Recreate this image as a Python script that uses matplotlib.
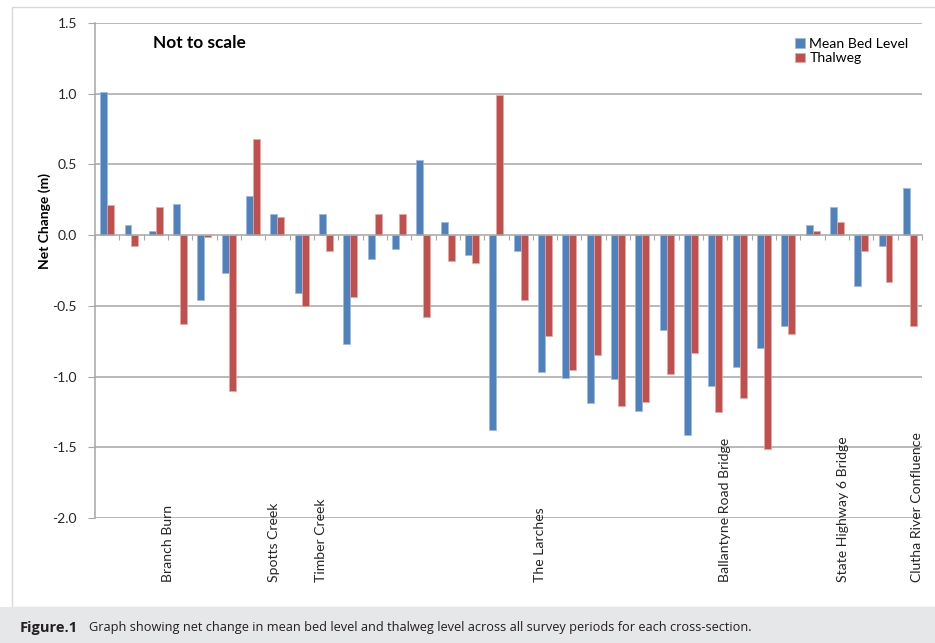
import numpy as np
import matplotlib
matplotlib.use("Agg")
import matplotlib.pyplot as plt
from matplotlib.patches import Rectangle
from matplotlib.transforms import blended_transform_factory

plt.rcParams['font.family'] = ['Lato', 'DejaVu Sans']

# net change per cross-section (m)
mean_bed = [1.01, 0.07, 0.03, 0.22, -0.46, -0.27, 0.28, 0.15, -0.41, 0.15,
            -0.77, -0.17, -0.10, 0.53, 0.09, -0.14, -1.38, -0.11, -0.97, -1.01,
            -1.19, -1.02, -1.24, -0.67, -1.41, -1.07, -0.93, -0.80, -0.64, 0.07,
            0.20, -0.36, -0.08, 0.33]
thalweg = [0.21, -0.08, 0.20, -0.63, -0.01, -1.10, 0.68, 0.13, -0.50, -0.11,
           -0.44, 0.15, 0.15, -0.58, -0.18, -0.20, 0.99, -0.46, -0.71, -0.95,
           -0.85, -1.21, -1.18, -0.98, -0.83, -1.25, -1.15, -1.51, -0.70, 0.03,
           0.09, -0.11, -0.33, -0.64]

# landmarks along the reach (position in cross-section units)
site_names = ['Branch Burn', 'Spotts Creek', 'Timber Creek', 'The Larches',
              'Ballantyne Road Bridge', 'State Highway 6 Bridge',
              'Clutha River Confluence']
site_pos = [2.5, 6.86, 8.79, 17.8, 25.4, 30.26, 33.3]

y_ticks = [-2.0, -1.5, -1.0, -0.5, 0.0, 0.5, 1.0, 1.5]

blue = '#4F81BD'
red = '#C0504D'
grid_c = '#A6A6A6'

fig = plt.figure(figsize=(9.35, 6.43), dpi=100)

# outer frame and caption strip, kept behind the axes
fig.patches.append(Rectangle((12 / 935, 36 / 643), 1.0, 1 - 43 / 643,
                             transform=fig.transFigure, facecolor='white',
                             edgecolor='#D9D9D9', lw=1, zorder=-5))
fig.patches.append(Rectangle((0, 0), 1, 36 / 643, transform=fig.transFigure,
                             facecolor='#E6E7E8', edgecolor='none', zorder=-5))

ax = fig.add_axes([95 / 935, 125 / 643, 827 / 935, 495 / 643])
ax.patch.set_alpha(0)

x = np.arange(len(mean_bed))
w = 0.286
ax.bar(x - w / 2, mean_bed, w, color=blue, edgecolor='#9DB9DE', lw=0.5,
       label='Mean Bed Level', zorder=3)
ax.bar(x + w / 2, thalweg, w, color=red, edgecolor='#E3A9A7', lw=0.5,
       label='Thalweg', zorder=3)

ax.set_xlim(-0.5, len(mean_bed) - 0.5)
ax.set_ylim(-2.0, 1.5)
ax.set_yticks(y_ticks)
ax.set_yticklabels([f'{v:.1f}' for v in y_ticks], fontsize=10, color='#262626')
for v in y_ticks:
    if v != 0:
        ax.axhline(v, color=grid_c, lw=1.1, zorder=1)

for s in ['top', 'right']:
    ax.spines[s].set_visible(False)
ax.spines['left'].set_color(grid_c)
ax.spines['left'].set_linewidth(1.1)
ax.spines['bottom'].set_position(('data', 0))
ax.spines['bottom'].set_color(grid_c)
ax.spines['bottom'].set_linewidth(1.1)
ax.spines['bottom'].set_zorder(4)

ax.tick_params(axis='y', direction='out', length=5, color=grid_c, pad=8)
ax.set_xticks(np.arange(-0.5, len(mean_bed), 1.0))
ax.tick_params(axis='x', direction='out', length=3.5, color=grid_c,
               labelbottom=False)

ax.set_ylabel('Net Change (m)', fontsize=10, fontweight='bold')
ax.yaxis.set_label_coords(-0.053, 0.60)

trans = blended_transform_factory(ax.transData, ax.transAxes)
for name, pos in zip(site_names, site_pos):
    ax.text(pos, -0.129, name, transform=trans, rotation=90, ha='center',
            va='bottom', fontsize=10.1, color='#262626', clip_on=False)

ax.text(0.070, 0.96, 'Not to scale', transform=ax.transAxes, fontsize=12.4,
        fontweight='bold', va='center', ha='left')

ax.legend(loc='upper left', bbox_to_anchor=(0.840, 0.982), frameon=False,
          fontsize=10.1, handlelength=0.7, handleheight=0.7, handletextpad=0.3,
          labelspacing=0.2, borderaxespad=0)

fig.text(20 / 935, 15 / 643, 'Figure.1', fontsize=10.5, fontweight='bold',
         family=['Open Sans', 'DejaVu Sans'], va='center', color='#231F20')
fig.text(89 / 935, 15 / 643,
         'Graph showing net change in mean bed level and thalweg level across '
         'all survey periods for each cross-section.',
         fontsize=9.2, family=['Open Sans', 'DejaVu Sans'], va='center',
         color='#231F20')

fig.savefig('out.png', dpi=100)
